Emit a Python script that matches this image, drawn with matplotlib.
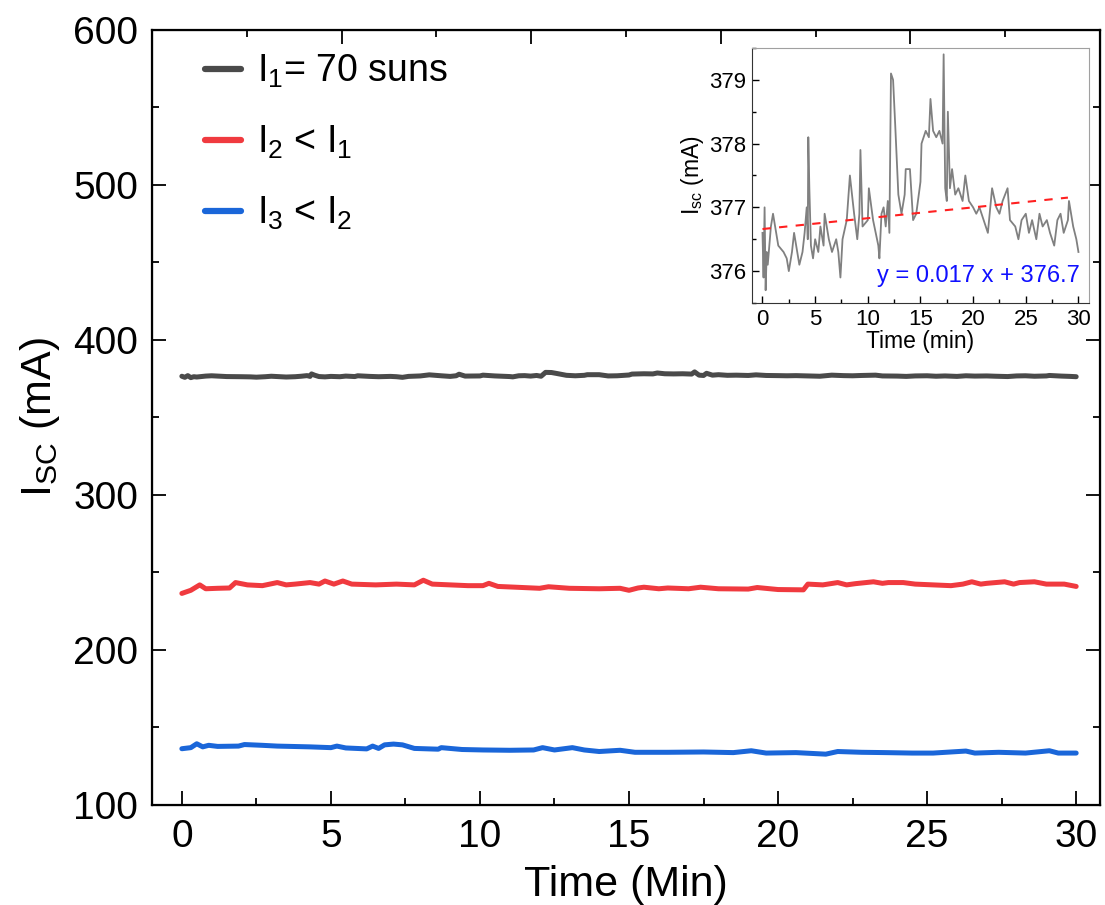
import matplotlib
matplotlib.use("Agg")
import matplotlib.pyplot as plt
from matplotlib.ticker import MultipleLocator

plt.rcParams["font.family"] = ["Liberation Sans", "DejaVu Sans"]
plt.rcParams["mathtext.fontset"] = "custom"
plt.rcParams["mathtext.rm"] = "Liberation Sans"
plt.rcParams["mathtext.it"] = "Liberation Sans"

GRAY = "#4a4a4a"
RED = "#f03a3f"
BLUE = "#1a66d9"
INSET_GRAY = "#808080"

# I1 = 70 suns (also shown zoomed in the inset)
TIME_1 = [
    0.0, 0.1, 0.2, 0.3, 0.4, 0.5, 0.8, 1.0, 1.3, 1.5,
    2.0, 2.3, 2.5, 2.8, 3.0, 3.3, 3.5, 3.8, 4.0, 4.2,
    4.3, 4.35, 4.45, 4.6, 4.8, 5.0, 5.3, 5.5, 5.8, 5.9,
    6.3, 6.6, 7.0, 7.2, 7.4, 7.6, 8.0, 8.3, 8.5, 8.7,
    9.0, 9.2, 9.3, 9.5, 10.0, 10.1, 10.5, 11.0, 11.1, 11.3,
    11.5, 11.7, 11.9, 12.05, 12.2, 12.4, 12.6, 12.9, 13.2, 13.5,
    13.6, 14.0, 14.3, 14.6, 15.0, 15.1, 15.5, 15.8, 15.95, 16.2,
    16.5, 16.8, 17.1, 17.2, 17.35, 17.5, 17.6, 17.8, 18.0, 18.3,
    18.6, 19.0, 19.26, 19.6, 20.0, 20.3, 20.6, 21.0, 21.4, 21.8,
    22.2, 22.5, 22.8, 23.27, 23.5, 24.0, 24.3, 24.6, 25.0, 25.3,
    25.6, 26.0, 26.3, 26.6, 27.0, 27.3, 27.7, 28.0, 28.3, 28.6,
    29.0, 29.1, 29.5, 29.8, 30.0,
]
ISC_1 = [
    376.6, 375.9, 377.0, 375.7, 376.3, 376.1, 376.7, 376.9, 376.6, 376.4,
    376.3, 376.2, 376.0, 376.3, 376.6, 376.3, 376.1, 376.3, 376.6, 377.0,
    376.5, 378.1, 377.3, 376.4, 376.2, 376.5, 376.3, 376.7, 376.4, 376.9,
    376.5, 376.3, 376.5, 376.3, 375.9, 376.5, 376.8, 377.5, 377.2, 376.9,
    376.5, 376.9, 377.9, 376.7, 376.8, 377.3, 376.8, 376.4, 376.2, 376.9,
    377.0, 376.7, 377.1, 376.6, 379.1, 379.0, 378.3, 377.2, 376.9, 377.2,
    377.6, 377.6, 376.8, 376.9, 377.4, 378.0, 378.2, 378.1, 378.7, 378.2,
    378.1, 378.2, 378.0, 379.4, 377.3, 377.1, 378.5, 377.3, 377.6, 377.2,
    377.3, 377.1, 377.5, 377.1, 377.0, 376.9, 377.0, 376.8, 376.6, 377.3,
    377.0, 376.9, 377.1, 377.3, 376.8, 376.7, 376.5, 376.8, 376.9, 376.6,
    376.8, 376.5, 376.9, 376.7, 376.8, 376.6, 376.4, 376.8, 376.9, 376.6,
    376.8, 377.1, 376.7, 376.5, 376.3,
]

# I2 < I1
TIME_2 = [
    0.0, 0.3, 0.6, 0.8, 1.2, 1.6, 1.8, 2.2, 2.7, 3.2,
    3.5, 3.8, 4.3, 4.6, 4.8, 5.1, 5.4, 5.7, 6.5, 7.2,
    7.8, 8.1, 8.4, 9.0, 9.6, 10.1, 10.3, 10.6, 11.2, 12.0,
    12.3, 13.0, 14.0, 14.7, 15.0, 15.3, 15.5, 16.0, 16.3, 17.0,
    17.4, 18.0, 19.0, 19.3, 20.0, 20.85, 21.0, 21.5, 22.0, 22.3,
    22.6, 23.2, 23.5, 23.7, 24.2, 24.6, 25.2, 25.8, 26.2, 26.5,
    26.8, 27.0, 27.6, 27.9, 28.1, 28.6, 29.0, 29.6, 30.0,
]
ISC_2 = [
    236.5, 238.5, 242.0, 239.5, 239.8, 240.0, 243.5, 242.0, 241.5, 243.5,
    242.0, 242.5, 243.5, 242.5, 244.5, 242.5, 244.5, 242.5, 242.0, 242.5,
    242.0, 245.0, 242.5, 242.0, 241.5, 241.5, 243.0, 241.0, 240.5, 239.8,
    240.8, 239.8, 239.5, 239.8, 238.5, 240.0, 240.5, 239.5, 240.0, 239.5,
    240.5, 239.5, 239.3, 240.3, 239.0, 238.8, 242.5, 242.0, 243.5, 242.0,
    242.8, 244.0, 243.0, 243.5, 243.5, 242.5, 242.0, 241.5, 242.5, 244.0,
    242.5, 243.0, 244.0, 242.5, 243.5, 244.0, 242.5, 242.5, 241.0,
]

# I3 < I2
TIME_3 = [
    0.0, 0.3, 0.5, 0.7, 0.9, 1.2, 1.9, 2.1, 2.7, 3.2,
    4.3, 5.0, 5.2, 5.5, 6.2, 6.4, 6.6, 6.8, 7.1, 7.4,
    7.8, 8.6, 8.7, 9.4, 10.1, 11.0, 11.8, 12.1, 12.5, 13.1,
    13.5, 14.0, 14.7, 15.2, 16.3, 17.5, 18.5, 19.1, 19.6, 20.6,
    21.6, 22.0, 22.8, 23.6, 24.5, 25.2, 26.3, 26.6, 27.4, 28.3,
    29.1, 29.4, 30.0,
]
ISC_3 = [
    136.3, 137.0, 139.5, 137.5, 138.5, 137.8, 138.0, 139.0, 138.5, 138.0,
    137.5, 137.0, 138.0, 136.8, 136.2, 138.0, 136.5, 138.8, 139.3, 138.8,
    136.5, 136.0, 137.0, 135.8, 135.5, 135.3, 135.5, 137.0, 135.5, 137.0,
    135.5, 134.5, 135.3, 134.0, 134.0, 134.2, 133.8, 135.0, 133.5, 133.8,
    132.8, 134.5, 134.0, 133.8, 133.5, 133.5, 134.8, 133.5, 134.0, 133.5,
    135.0, 133.5, 133.5,
]

FIT_SLOPE = 0.017
FIT_INTERCEPT = 376.66
FIT_TIME = [0.0, 29.0]

fig = plt.figure(figsize=(11.05, 9.05), dpi=100)
ax = fig.add_axes([0.1376, 0.1105, 0.8579, 0.8564])

line_kw = dict(linewidth=3.6, solid_capstyle="round", solid_joinstyle="round")
ax.plot(TIME_1, ISC_1, color=GRAY, label=r"$\mathregular{I_1}$= 70 suns", **line_kw)
ax.plot(TIME_2, ISC_2, color=RED, label=r"$\mathregular{I_2}$ < $\mathregular{I_1}$", **line_kw)
ax.plot(TIME_3, ISC_3, color=BLUE, label=r"$\mathregular{I_3}$ < $\mathregular{I_2}$", **line_kw)

ax.set_xlim(-1, 30.8)
ax.set_ylim(100, 600)
ax.xaxis.set_major_locator(MultipleLocator(5))
ax.xaxis.set_minor_locator(MultipleLocator(2.5))
ax.yaxis.set_major_locator(MultipleLocator(100))
ax.yaxis.set_minor_locator(MultipleLocator(50))
ax.tick_params(which="both", direction="in", left=True, right=True, bottom=True, top=False,
               width=1.3, labelsize=28)
ax.tick_params(which="major", length=10, pad=10)
ax.tick_params(which="minor", length=5)
for sp in ax.spines.values():
    sp.set_linewidth(1.6)

ax.set_xlabel("Time (Min)", fontsize=31, labelpad=7)
ax.set_ylabel(r"$\mathregular{I_{SC}}$ (mA)", fontsize=31, labelpad=8)

# top axis ticks (separate scale, unlabeled)
top = ax.twiny()
top.set_xlim(0, 1)
top.xaxis.set_major_locator(MultipleLocator(0.2))
top.xaxis.set_minor_locator(MultipleLocator(0.1))
top.tick_params(which="both", direction="in", labeltop=False, width=1.3)
top.tick_params(which="major", length=10)
top.tick_params(which="minor", length=5)

leg = ax.legend(loc="upper left", bbox_to_anchor=(0.04, 0.99), frameon=False,
                fontsize=27, handlelength=0.95, handletextpad=0.45, labelspacing=0.9,
                borderaxespad=0)
for h in leg.get_lines():
    h.set_linewidth(4.5)

# inset
ins = fig.add_axes([0.6805, 0.6652, 0.3050, 0.2818])
ins.set_facecolor("white")
ins.plot(TIME_1, ISC_1, color=INSET_GRAY, linewidth=1.3)
fit_vals = [FIT_SLOPE * t + FIT_INTERCEPT for t in FIT_TIME]
ins.plot(FIT_TIME, fit_vals, color="#ff2020", linewidth=1.5, linestyle=(0, (4, 4)))
ins.set_xlim(-1, 31)
ins.set_ylim(375.5, 379.5)
ins.xaxis.set_major_locator(MultipleLocator(5))
ins.xaxis.set_minor_locator(MultipleLocator(2.5))
ins.yaxis.set_major_locator(MultipleLocator(1))
ins.yaxis.set_minor_locator(MultipleLocator(0.5))
ins.tick_params(which="both", direction="in", labelsize=16, width=1.0, pad=4)
ins.tick_params(which="major", length=5)
ins.tick_params(which="minor", length=3)
ins.spines["left"].set_color("#333333")
ins.spines["bottom"].set_color("#333333")
ins.spines["top"].set_color("#a0a0a0")
ins.spines["right"].set_color("#a0a0a0")
ins.set_xlabel("Time (min)", fontsize=16.5, labelpad=0)
ins.set_ylabel(r"$\mathregular{I_{sc}}$ (mA)", fontsize=16.5, labelpad=2)
ins.text(0.973, 0.082, f"y = {FIT_SLOPE} x + {round(FIT_INTERCEPT, 1)}",
         transform=ins.transAxes, ha="right", va="baseline", fontsize=17, color="#1010ff")

fig.savefig("out.png", dpi=100)
